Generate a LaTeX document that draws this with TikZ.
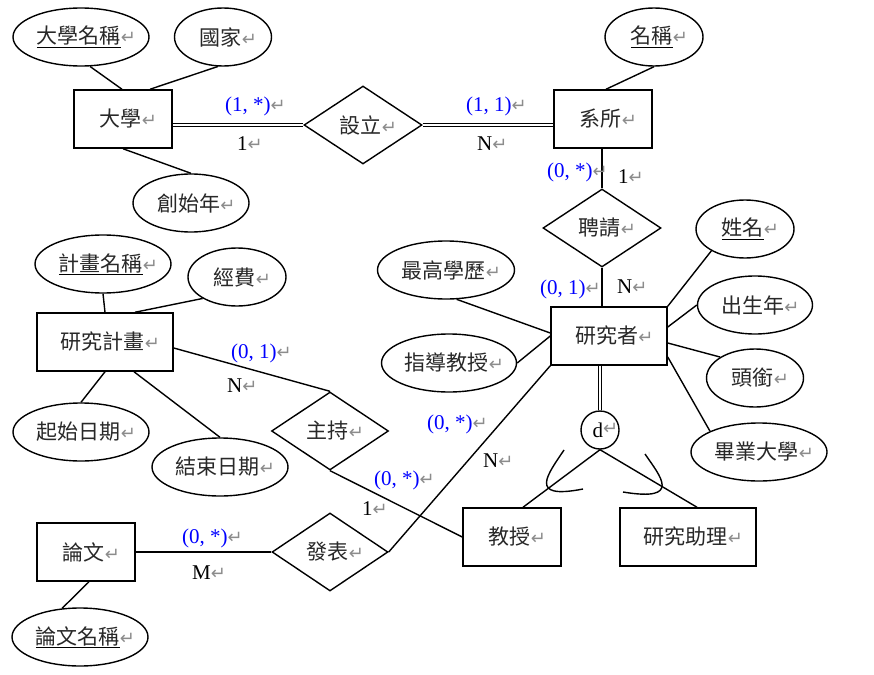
\documentclass[tikz,border=0pt]{standalone}
\usepackage{fontspec}
\setmainfont{Liberation Serif}
\newfontfamily\cjk{Noto Sans CJK TC}
\newfontfamily\dvs{DejaVu Sans}
\usetikzlibrary{shapes.geometric}
\definecolor{retgray}{RGB}{140,140,140}
\definecolor{lblblue}{RGB}{0,0,255}
\definecolor{zhgray}{RGB}{40,40,40}
\newcommand\ret{{\dvs\fontsize{18}{18}\selectfont\textcolor{retgray}{↵}}}
\newcommand\zh[1]{{\cjk\color{zhgray}#1}}
\newcommand\tx[1]{\makebox[0pt]{\hspace{11pt}#1\ret}}
\tikzset{
  entity/.style={draw, line width=1.5pt, rectangle, minimum height=58pt, inner sep=0pt},
  attr/.style={draw, line width=1.4pt, ellipse, minimum height=58pt, inner sep=0pt},
  rel/.style={draw, line width=1.4pt, diamond, minimum width=118pt, minimum height=78pt, inner sep=0pt},
  conn/.style={line width=1.4pt},
  dbl/.style={line width=1.3pt, double, double distance=2pt},
  lbl/.style={anchor=base west, inner sep=0pt},
  card/.style={lbl, text=lblblue}
}
\begin{document}
\begin{tikzpicture}[x=1pt,y=-1pt,font=\fontsize{21}{24}\selectfont]
\useasboundingbox[fill=white] (0,0) rectangle (874,674);
% entities
\node[entity, minimum width=98pt] (U) at (123,119) {\tx{\zh{大學}}};
\node[entity, minimum width=98pt] (D) at (603,119) {\tx{\zh{系所}}};
\node[entity, minimum width=136pt] (PP) at (105,342) {\tx{\zh{研究計畫}}};
\node[entity, minimum width=116pt] (P) at (609,336) {\tx{\zh{研究者}}};
\node[entity, minimum width=98pt] (W) at (86,552) {\tx{\zh{論文}}};
\node[entity, minimum width=98pt] (T) at (512,537) {\tx{\zh{教授}}};
\node[entity, minimum width=136pt] (RA) at (688,537) {\tx{\zh{研究助理}}};
% relationships
\node[rel] (R1) at (363,125) {\tx{\zh{設立}}};
\node[rel] (R2) at (602,228) {\tx{\zh{聘請}}};
\node[rel, minimum width=117pt] (R3) at (330,431) {\tx{\zh{主持}}};
\node[rel, minimum width=116pt] (R4) at (330,552) {\tx{\zh{發表}}};
\node[draw, circle, line width=1.4pt, minimum size=38pt, inner sep=0pt] (C) at (600,430) {\tx{\raisebox{-3pt}{d}}};
% attributes
\node[attr, minimum width=136pt] (a1) at (81,37) {\tx{\underline{\zh{大學名稱}}}};
\node[attr, minimum width=97pt] (a2) at (223,37) {\tx{\zh{國家}}};
\node[attr, minimum width=116pt] (a3) at (191,203) {\tx{\zh{創始年}}};
\node[attr, minimum width=98pt] (a4) at (654,37) {\tx{\underline{\zh{名稱}}}};
\node[attr, minimum width=137pt] (a5) at (446,270) {\tx{\zh{最高學歷}}};
\node[attr, minimum width=135pt] (a6) at (449,363) {\tx{\zh{指導教授}}};
\node[attr, minimum width=98pt] (a7) at (745,229) {\tx{\underline{\zh{姓名}}}};
\node[attr, minimum width=115pt] (a8) at (755,305) {\tx{\zh{出生年}}};
\node[attr, minimum width=97pt] (a9) at (755,378) {\tx{\zh{頭銜}}};
\node[attr, minimum width=136pt] (a10) at (759,452) {\tx{\zh{畢業大學}}};
\node[attr, minimum width=136pt] (a11) at (103,264) {\tx{\underline{\zh{計畫名稱}}}};
\node[attr, minimum width=98pt] (a12) at (237,277) {\tx{\zh{經費}}};
\node[attr, minimum width=136pt] (a13) at (81,432) {\tx{\zh{起始日期}}};
\node[attr, minimum width=136pt] (a14) at (220,467) {\tx{\zh{結束日期}}};
\node[attr, minimum width=136pt] (a15) at (80,637) {\tx{\underline{\zh{論文名稱}}}};
% connectors
\draw[conn] (a1.-73) -- ([xshift=-1pt]U.north);
\draw[conn] (a2.-100) -- ([xshift=27pt]U.north);
\draw[conn] (a3.north) -- (U.south);
\draw[dbl] (R1.west -| U.east) -- (R1.west);
\draw[dbl] (R1.east) -- (R1.east -| D.west);
\draw[conn] (a4.south) -- ([xshift=3pt]D.north);
\draw[conn] (R2.north |- D.south) -- (R2.north);
\draw[conn] (R2.south) -- (R2.south |- P.north);
\draw[conn] (a5.-70) -- ([yshift=3pt]P.west);
\draw[conn] (a6.east) -- (P.west);
\draw[conn] (a7.-147) -- (P.north east);
\draw[conn] (a8.west) -- ([yshift=9pt]P.east);
\draw[conn] (a9.149) -- ([yshift=-7pt]P.east);
\draw[conn] (a10.157) -- ([yshift=-21pt]P.east);
\draw[dbl] (C.north |- P.south) -- (C.north);
\draw[conn] (C.south) -- ([xshift=11pt]T.north);
\draw[conn] (C.south) -- ([xshift=9pt]RA.north);
\draw[conn] (a11.south) -- (PP.north);
\draw[conn] (a12.-148) -- ([xshift=30pt]PP.north);
\draw[conn] (a13.north) -- (PP.south);
\draw[conn] (a14.north) -- ([xshift=29pt]PP.south);
\draw[conn] ([yshift=-6pt]PP.east) -- (R3.north);
\draw[conn] (R3.south) -- (T.west);
\draw[conn] (P.south west) -- (R4.east);
\draw[conn] (W.east) -- (R4.west);
\draw[conn] (a15.122) -- ([xshift=3pt]W.south);
% subset marks
\draw[conn] (564,450) .. controls (548,474) and (527,500) .. (583,489);
\draw[conn] (645,454) .. controls (660,476) and (683,502) .. (623,492);
% cardinality labels
\node[card] (L1) at (225,111) {(1, *)\ret};
\node[lbl] (L2) at (237,150) {1\ret};
\node[card] (L3) at (466,111) {(1, 1)\ret};
\node[lbl] (L4) at (477,150) {N\ret};
\node[card] (L5) at (547,177) {(0, *)\ret};
\node[lbl] (L6) at (618,183) {1\ret};
\node[card] (L7) at (540,294) {(0, 1)\ret};
\node[lbl] (L8) at (617,293) {N\ret};
\node[card] (L9) at (231,358) {(0, 1)\ret};
\node[lbl] (L10) at (227,392) {N\ret};
\node[card] (L11) at (427,429) {(0, *)\ret};
\node[lbl] (L12) at (483,467) {N\ret};
\node[card] (L13) at (374,485) {(0, *)\ret};
\node[lbl] (L14) at (362,515) {1\ret};
\node[card] (L15) at (182,543) {(0, *)\ret};
\node[lbl] (L16) at (192,579) {M\ret};
\end{tikzpicture}
\end{document}
